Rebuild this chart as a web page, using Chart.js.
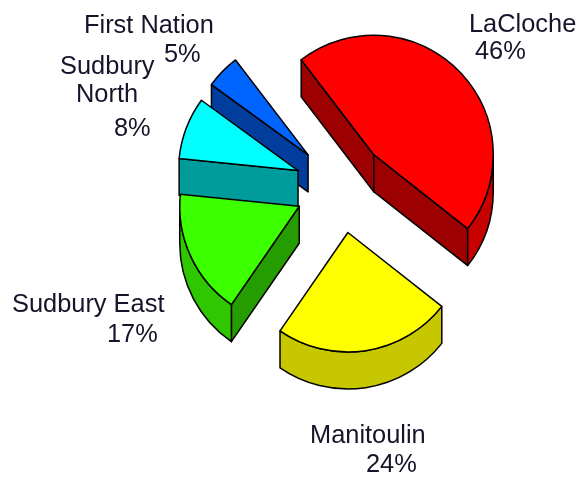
<!DOCTYPE html>
<html>
<head>
<meta charset="utf-8">
<script src="https://cdn.jsdelivr.net/npm/chart.js@4"></script>
<style>
  body { margin: 0; background: #fff; }
  canvas { display: block; }
</style>
</head>
<body>
<canvas id="pieChart" width="581" height="479"></canvas>
<script>
const regions = ['LaCloche', 'Manitoulin', 'Sudbury East', 'Sudbury North', 'First Nation'];
const shares = [46, 24, 17, 8.4, 4.6];
const sliceColors = ['#ff0000', '#ffff00', '#3cff00', '#00ffff', '#0064ff'];

const EXPLODE = 46;      // every slice is pulled out by the same distance
const DEPTH = 37;        // height of the extruded side walls
const drawOrder = [0, 1, 4, 3, 2];

// where each text line starts: name line(s), then the percentage
const labelSpots = [
  [[469, 32], [475, 59]],
  [[310, 443], [366, 472]],
  [[12, 312], [107, 342]],
  [[60, 74], [76, 102], [114, 136]],
  [[84, 33], [164, 62]]
];

function shade(hex, f) {
  const n = parseInt(hex.slice(1), 16);
  const r = Math.round((n >> 16) * f);
  const g = Math.round(((n >> 8) & 255) * f);
  const b = Math.round((n & 255) * f);
  return 'rgb(' + r + ',' + g + ',' + b + ')';
}

function paint(ctx, fill) {
  ctx.closePath();
  ctx.fillStyle = fill;
  ctx.fill();
  ctx.stroke();
}

function sideWall(ctx, x, y, r, angle, fill) {
  const rimX = x + Math.cos(angle) * r;
  const rimY = y + Math.sin(angle) * r;
  ctx.beginPath();
  ctx.moveTo(x, y);
  ctx.lineTo(rimX, rimY);
  ctx.lineTo(rimX, rimY + DEPTH);
  ctx.lineTo(x, y + DEPTH);
  paint(ctx, fill);
}

// 3D look: the pie elements give the geometry, this plugin paints them extruded
const slice3d = {
  id: 'slice3d',
  beforeDatasetDraw(chart) {
    const ctx = chart.ctx;
    const arcs = chart.getDatasetMeta(0).data;
    ctx.save();
    ctx.strokeStyle = '#000';
    ctx.lineWidth = 1.5;
    ctx.lineJoin = 'round';
    drawOrder.forEach(i => {
      const arc = arcs[i];
      const start = arc.startAngle, end = arc.endAngle, r = arc.outerRadius;
      const mid = (start + end) / 2;
      const x = arc.x + Math.cos(mid) * EXPLODE;
      const y = arc.y + Math.sin(mid) * EXPLODE;
      const color = arc.options.backgroundColor;

      // only walls whose lower side leaves the slice can be seen
      if (Math.cos(start) < 0) sideWall(ctx, x, y, r, start, shade(color, 0.61));
      if (Math.cos(end) > 0) sideWall(ctx, x, y, r, end, shade(color, 0.61));

      [-2 * Math.PI, 0, 2 * Math.PI].forEach(k => {
        const lo = Math.max(start, k), hi = Math.min(end, k + Math.PI);
        if (lo >= hi) return;
        ctx.beginPath();
        ctx.arc(x, y, r, lo, hi);
        ctx.arc(x, y + DEPTH, r, hi, lo, true);
        paint(ctx, shade(color, 0.78));
      });

      ctx.beginPath();
      ctx.moveTo(x, y);
      ctx.arc(x, y, r, start, end);
      paint(ctx, color);
    });
    ctx.restore();
    return false;
  },
  afterDraw(chart) {
    const ctx = chart.ctx;
    ctx.save();
    ctx.font = '25.4px "Liberation Sans"';
    ctx.fillStyle = '#14142a';
    ctx.textAlign = 'left';
    ctx.textBaseline = 'alphabetic';
    regions.forEach((name, i) => {
      const spots = labelSpots[i];
      const lines = spots.length > 2 ? name.split(' ') : [name];
      lines.concat(Math.round(shares[i]) + '%').forEach((line, j) => {
        ctx.fillText(line, spots[j][0], spots[j][1]);
      });
    });
    ctx.restore();
  }
};

new Chart(document.getElementById('pieChart'), {
  type: 'pie',
  data: {
    labels: regions,
    datasets: [{
      data: shares,
      backgroundColor: sliceColors,
      borderColor: '#000',
      borderWidth: 1,
      hoverOffset: 0
    }]
  },
  options: {
    responsive: false,
    animation: false,
    rotation: -37.4,
    layout: { padding: { left: 221, right: 120, top: 67, bottom: 172 } },
    plugins: { legend: { display: false }, tooltip: { enabled: false } }
  },
  plugins: [slice3d]
});
</script>
</body>
</html>
